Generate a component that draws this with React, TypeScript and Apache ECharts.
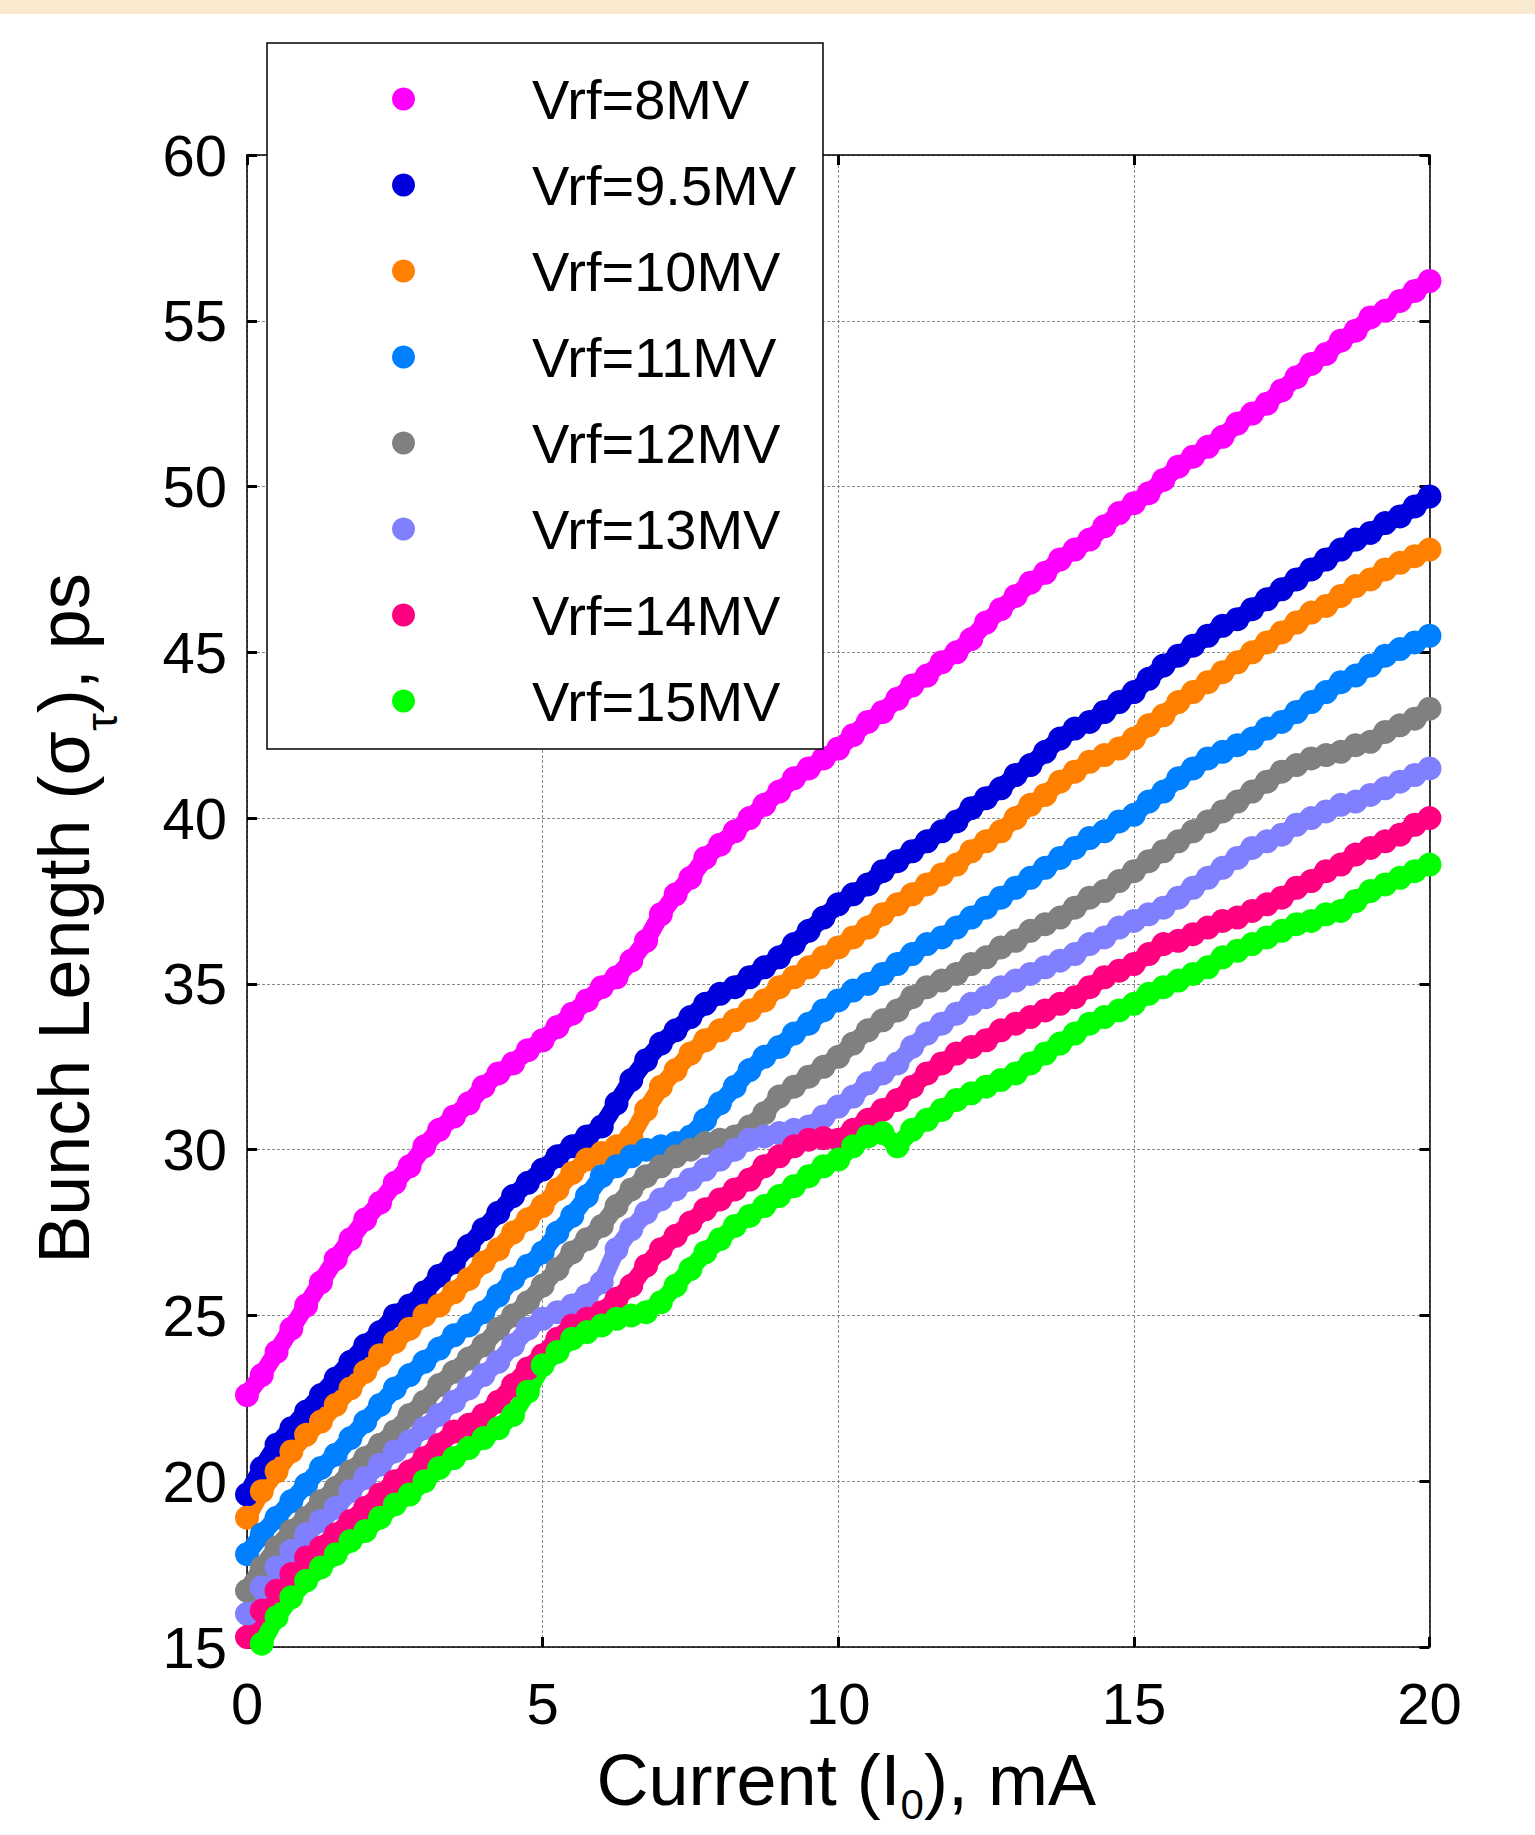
import React, { useEffect, useRef } from "react";
import * as echarts from "echarts";

// Beam current grid (mA), one sample every 0.25 mA from 0 to 20
const currents: number[] = Array.from({ length: 81 }, (_, i) => i * 0.25);

const seriesNames = [
  "Vrf=8MV",
  "Vrf=9.5MV",
  "Vrf=10MV",
  "Vrf=11MV",
  "Vrf=12MV",
  "Vrf=13MV",
  "Vrf=14MV",
  "Vrf=15MV",
];

const seriesColors = ["#ff00ff", "#0000dd", "#ff8000", "#0080ff", "#808080", "#8080ff", "#ff0080", "#00ff00"];

// Bunch length (ps), rows of 10 samples = 2.5 mA each
const vrf8 = [
  22.6, 23.2, 23.9, 24.6, 25.3, 26.0, 26.7, 27.3, 27.9, 28.4,
  29.0, 29.5, 30.1, 30.6, 31.0, 31.4, 31.9, 32.3, 32.6, 33.0,
  33.3, 33.7, 34.1, 34.5, 34.9, 35.2, 35.7, 36.3, 37.1, 37.7,
  38.2, 38.8, 39.2, 39.6, 40.0, 40.4, 40.8, 41.2, 41.5, 41.8,
  42.1, 42.5, 42.9, 43.2, 43.6, 44.0, 44.3, 44.7, 45.0, 45.4,
  45.9, 46.3, 46.7, 47.1, 47.4, 47.8, 48.1, 48.4, 48.8, 49.2,
  49.5, 49.8, 50.2, 50.6, 50.9, 51.2, 51.5, 51.9, 52.2, 52.5,
  52.9, 53.3, 53.7, 54.0, 54.4, 54.7, 55.1, 55.3, 55.6, 55.9,
  56.2,
];
const vrf95 = [
  19.6, 20.4, 21.1, 21.6, 22.1, 22.6, 23.1, 23.6, 24.1, 24.5,
  25.0, 25.3, 25.7, 26.2, 26.6, 27.1, 27.6, 28.1, 28.6, 29.0,
  29.4, 29.8, 30.1, 30.4, 30.7, 31.4, 32.1, 32.7, 33.2, 33.6,
  34.0, 34.4, 34.7, 34.9, 35.2, 35.5, 35.8, 36.2, 36.6, 37.0,
  37.4, 37.7, 38.0, 38.4, 38.7, 39.0, 39.3, 39.6, 39.9, 40.3,
  40.6, 40.9, 41.3, 41.6, 42.0, 42.4, 42.7, 42.9, 43.2, 43.5,
  43.8, 44.2, 44.6, 44.9, 45.2, 45.5, 45.8, 46.0, 46.3, 46.6,
  46.9, 47.2, 47.5, 47.8, 48.1, 48.4, 48.6, 48.9, 49.1, 49.4,
  49.7,
];
const vrf10 = [
  18.9, 19.7, 20.3, 20.9, 21.4, 21.8, 22.3, 22.8, 23.3, 23.8,
  24.2, 24.6, 25.0, 25.3, 25.7, 26.1, 26.6, 27.0, 27.5, 27.9,
  28.3, 28.8, 29.3, 29.7, 29.9, 30.1, 30.4, 31.2, 31.9, 32.4,
  32.9, 33.3, 33.6, 33.9, 34.2, 34.5, 34.9, 35.2, 35.5, 35.8,
  36.1, 36.4, 36.7, 37.1, 37.4, 37.7, 38.0, 38.3, 38.6, 39.0,
  39.3, 39.6, 40.0, 40.4, 40.7, 41.1, 41.4, 41.7, 41.9, 42.1,
  42.4, 42.8, 43.1, 43.5, 43.8, 44.1, 44.4, 44.7, 45.0, 45.3,
  45.6, 45.9, 46.2, 46.4, 46.7, 47.0, 47.2, 47.5, 47.7, 47.9,
  48.1,
];
const vrf11 = [
  17.8, 18.4, 18.9, 19.4, 19.9, 20.4, 20.8, 21.3, 21.8, 22.3,
  22.8, 23.2, 23.6, 24.0, 24.4, 24.7, 25.1, 25.6, 26.1, 26.5,
  26.9, 27.5, 28.0, 28.6, 29.2, 29.5, 29.8, 30.0, 30.1, 30.2,
  30.4, 30.9, 31.4, 31.9, 32.4, 32.8, 33.1, 33.5, 33.8, 34.2,
  34.5, 34.8, 35.0, 35.3, 35.6, 35.9, 36.2, 36.4, 36.7, 37.0,
  37.3, 37.6, 37.9, 38.2, 38.5, 38.8, 39.1, 39.4, 39.6, 39.9,
  40.1, 40.5, 40.8, 41.2, 41.5, 41.8, 42.0, 42.2, 42.4, 42.7,
  42.9, 43.2, 43.5, 43.8, 44.1, 44.3, 44.6, 44.9, 45.1, 45.3,
  45.5,
];
const vrf12 = [
  16.7, 17.4, 18.0, 18.5, 18.9, 19.4, 19.8, 20.3, 20.7, 21.1,
  21.5, 22.0, 22.4, 22.9, 23.3, 23.7, 24.1, 24.6, 25.0, 25.4,
  25.9, 26.4, 26.9, 27.3, 27.7, 28.3, 28.8, 29.2, 29.5, 29.8,
  30.0, 30.2, 30.3, 30.4, 30.7, 31.1, 31.6, 31.9, 32.2, 32.5,
  32.8, 33.2, 33.6, 33.9, 34.2, 34.6, 34.9, 35.1, 35.3, 35.6,
  35.8, 36.1, 36.3, 36.6, 36.8, 37.0, 37.3, 37.6, 37.8, 38.1,
  38.4, 38.7, 39.0, 39.3, 39.6, 39.9, 40.2, 40.5, 40.8, 41.1,
  41.4, 41.6, 41.8, 41.9, 42.0, 42.2, 42.3, 42.6, 42.8, 43.0,
  43.3,
];
const vrf13 = [
  16.0, 16.8, 17.4, 17.9, 18.4, 18.8, 19.2, 19.7, 20.1, 20.5,
  20.9, 21.2, 21.6, 22.0, 22.4, 22.8, 23.2, 23.6, 24.1, 24.6,
  24.9, 25.1, 25.3, 25.6, 26.0, 27.0, 27.6, 28.1, 28.5, 28.8,
  29.1, 29.4, 29.7, 30.0, 30.3, 30.4, 30.5, 30.6, 30.7, 31.0,
  31.3, 31.6, 32.0, 32.3, 32.6, 33.1, 33.5, 33.8, 34.1, 34.4,
  34.6, 34.9, 35.1, 35.3, 35.5, 35.7, 35.9, 36.2, 36.4, 36.7,
  36.9, 37.1, 37.3, 37.6, 37.9, 38.2, 38.5, 38.8, 39.1, 39.3,
  39.5, 39.8, 40.0, 40.2, 40.4, 40.5, 40.7, 40.9, 41.1, 41.3,
  41.5,
];
const vrf14 = [
  15.3, 16.1, 16.7, 17.2, 17.7, 18.0, 18.4, 18.8, 19.2, 19.6,
  20.0, 20.3, 20.7, 21.1, 21.5, 21.7, 22.0, 22.4, 22.9, 23.4,
  23.8, 24.3, 24.7, 24.9, 25.1, 25.5, 25.9, 26.5, 27.0, 27.4,
  27.8, 28.2, 28.5, 28.8, 29.1, 29.5, 29.8, 30.1, 30.3, 30.35,
  30.3, 30.6, 30.9, 31.2, 31.5, 31.9, 32.3, 32.6, 32.9, 33.1,
  33.3, 33.6, 33.8, 34.0, 34.2, 34.4, 34.6, 34.9, 35.2, 35.4,
  35.6, 35.9, 36.2, 36.3, 36.5, 36.7, 36.9, 37.0, 37.2, 37.4,
  37.6, 37.9, 38.1, 38.4, 38.6, 38.9, 39.1, 39.3, 39.5, 39.8,
  40.0,
];
const vrf15 = [
  null, 15.1, 15.9, 16.5, 17.0, 17.4, 17.8, 18.2, 18.5, 18.9,
  19.3, 19.6, 20.0, 20.4, 20.7, 21.0, 21.3, 21.6, 22.0, 22.7,
  23.5, 23.9, 24.3, 24.5, 24.7, 24.9, 25.0, 25.1, 25.4, 25.9,
  26.4, 26.9, 27.3, 27.7, 28.0, 28.3, 28.6, 28.9, 29.2, 29.5,
  29.7, 30.1, 30.4, 30.5, 30.1, 30.6, 30.9, 31.2, 31.5, 31.7,
  31.9, 32.1, 32.3, 32.6, 32.9, 33.2, 33.5, 33.8, 34.0, 34.2,
  34.4, 34.7, 34.9, 35.1, 35.3, 35.5, 35.8, 36.0, 36.2, 36.4,
  36.6, 36.8, 36.9, 37.1, 37.2, 37.5, 37.8, 38.0, 38.2, 38.4,
  38.6,
];

const allValues: (number | null)[][] = [vrf8, vrf95, vrf10, vrf11, vrf12, vrf13, vrf14, vrf15];

const xTicks = { min: 0, max: 20, interval: 5 };
const yTicks = { min: 15, max: 60, interval: 5 };

const FONT = "'Liberation Sans', Arial, Helvetica, sans-serif";

export default function App() {
  const ref = useRef<HTMLDivElement>(null);

  useEffect(() => {
    if (!ref.current) return;
    const chart = echarts.init(ref.current, null, { renderer: "svg" });

    const series: any[] = [];
    allValues.forEach((vals, si) => {
      const data = currents
        .map((x, i) => (vals[i] == null ? null : [x, vals[i]]))
        .filter((d) => d !== null);
      // dense dot chain: an underlying band of the same colour fills the gaps between dots
      series.push({
        name: seriesNames[si],
        type: "line",
        showSymbol: false,
        symbol: "none",
        silent: true,
        clip: false,
        z: 2,
        lineStyle: { color: seriesColors[si], width: 18, cap: "round", join: "round" },
        itemStyle: { color: seriesColors[si] },
        emphasis: { disabled: true },
        data,
      });
      series.push({
        name: seriesNames[si],
        type: "scatter",
        symbol: "circle",
        symbolSize: 24,
        clip: false,
        z: 2,
        itemStyle: { color: seriesColors[si], opacity: 1 },
        emphasis: { disabled: true },
        data,
      });
    });

    const tickStyle = { show: true, inside: true, length: 10, lineStyle: { color: "#000", width: 3 } };
    const axisLine = { show: true, onZero: false, lineStyle: { color: "#000", width: 1.5 } };
    const splitLine = { show: true, lineStyle: { color: "#8a8a8a", width: 1, type: [3, 2] } };

    chart.setOption({
      animation: false,
      backgroundColor: "#ffffff",
      textStyle: { fontFamily: FONT },
      grid: {
        left: 247,
        top: 155,
        right: 105.5,
        bottom: 188,
        containLabel: false,
        outerBoundsMode: "none",
      },
      xAxis: [
        {
          type: "value",
          position: "bottom",
          ...xTicks,
          axisLine,
          axisTick: tickStyle,
          splitLine,
          axisLabel: { show: true, fontSize: 58, color: "#000", fontFamily: FONT, margin: 27 },
          name: "Current (I{s|0}), mA",
          nameLocation: "middle",
          nameGap: 88,
          nameTextStyle: {
            fontSize: 72,
            color: "#000",
            fontFamily: FONT,
            padding: [0, 0, 0, 16],
            rich: {
              s: { fontSize: 42, color: "#000", fontFamily: FONT, padding: [48, 0, 0, 0] },
            },
          },
        },
        {
          type: "value",
          position: "top",
          ...xTicks,
          axisLine,
          axisTick: tickStyle,
          splitLine: { show: false },
          axisLabel: { show: false },
        },
      ],
      yAxis: [
        {
          type: "value",
          position: "left",
          ...yTicks,
          axisLine,
          axisTick: tickStyle,
          splitLine,
          axisLabel: { show: true, fontSize: 58, color: "#000", fontFamily: FONT, margin: 20 },
          name: "Bunch Length (σ{s|τ}), ps",
          nameLocation: "middle",
          nameGap: 123,
          nameTextStyle: {
            fontSize: 72,
            color: "#000",
            fontFamily: FONT,
            padding: [0, 35, 0, 0],
            rich: {
              s: { fontSize: 45, color: "#000", fontFamily: FONT, padding: [76, 0, 0, 0] },
            },
          },
        },
        {
          type: "value",
          position: "right",
          ...yTicks,
          axisLine,
          axisTick: tickStyle,
          splitLine: { show: false },
          axisLabel: { show: false },
        },
      ],
      legend: {
        show: true,
        orient: "vertical",
        left: 267,
        top: 43,
        padding: [28, 20, 20, 125],
        itemWidth: 23,
        itemHeight: 23,
        itemGap: 30,
        icon: "circle",
        selectedMode: false,
        z: 10,
        textStyle: {
          fontSize: 56,
          lineHeight: 55,
          color: "#000",
          fontFamily: FONT,
          padding: [0, 0, 0, 112],
        },
        data: seriesNames,
      },
      graphic: {
        elements: [
          {
            type: "rect",
            z: 0,
            silent: true,
            shape: { x: 0, y: 0, width: 1535, height: 14 },
            style: { fill: "#f8e9cf" },
          },
          {
            type: "rect",
            z: 5,
            silent: true,
            shape: { x: 267, y: 43, width: 556, height: 706 },
            style: { fill: "#ffffff", stroke: "#000", lineWidth: 1.5 },
          },
        ],
      },
      series,
    });

    return () => {
      chart.dispose();
    };
  }, []);

  return (
    <div
      ref={ref}
      style={{ position: "absolute", left: 0, top: 0, width: 1535, height: 1835, background: "#fff" }}
    />
  );
}
